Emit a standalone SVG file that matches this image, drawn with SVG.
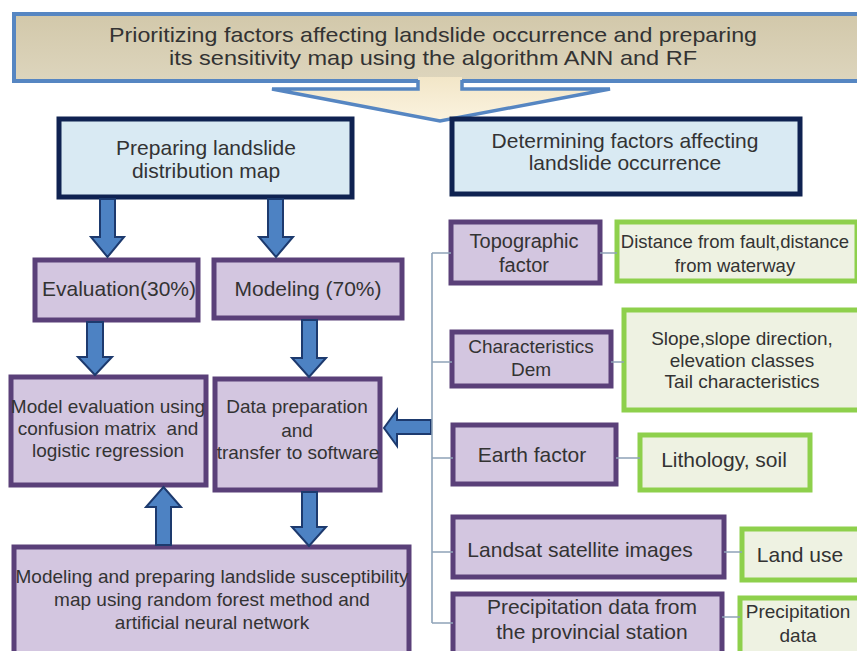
<svg xmlns="http://www.w3.org/2000/svg" width="857" height="651" viewBox="0 0 857 651">
<defs>
<linearGradient id="tan" x1="0" y1="0" x2="0" y2="1">
<stop offset="0" stop-color="#d2c8aa"/>
<stop offset="1" stop-color="#ddd5bd"/>
</linearGradient>
<linearGradient id="cream" x1="0" y1="0" x2="0" y2="1">
<stop offset="0" stop-color="#f2e6c8"/>
<stop offset="1" stop-color="#fbf3df"/>
</linearGradient>
</defs>
<style>
text{font-family:"Liberation Sans",Arial,sans-serif;fill:#333333;text-anchor:middle}
.t21{font-size:21px}
.t19{font-size:19px}
.t18{font-size:18.5px}
.t20{font-size:20px}
.navy{fill:#d9eaf3;stroke:#0f2251;stroke-width:5}
.purple{fill:#d3c6e0;stroke:#5a4079;stroke-width:5}
.green{fill:#eef2e2;stroke:#8ed04c;stroke-width:5}
.barrow{fill:#4d82c3;stroke:#1d3a6e;stroke-width:2;stroke-linejoin:miter}
.link{fill:none;stroke:#8ea3b8;stroke-width:1.6}
</style>
<rect width="857" height="651" fill="#ffffff"/>

<g id="banner">
<rect x="14" y="14" width="850" height="67" fill="url(#tan)" stroke="#5686c2" stroke-width="4"/>
<text class="t21" x="433" y="42" textLength="648" lengthAdjust="spacingAndGlyphs">Prioritizing factors affecting landslide occurrence and preparing</text>
<text class="t21" x="433" y="65" textLength="528" lengthAdjust="spacingAndGlyphs">its sensitivity map using the algorithm ANN and RF</text>
</g>
<g id="banner-arrow">
<path d="M418,77 L418,89 L272,89 L440,121 L610,89 L462,89 L462,77 Z" fill="url(#cream)"/>
<path d="M418,80 L418,89 L272,89 L440,121 L610,89 L462,89 L462,80" fill="none" stroke="#5686c2" stroke-width="3.5" stroke-linejoin="miter"/>
</g>

<g id="prep-dist">
<rect x="59" y="119" width="293" height="78" class="navy"/>
<text class="t21" x="206" y="155">Preparing landslide</text>
<text class="t21" x="206" y="178">distribution map</text>
</g>
<g id="determining">
<rect x="452" y="119" width="348" height="75" class="navy"/>
<text class="t21" x="625" y="148">Determining factors affecting</text>
<text class="t21" x="625" y="170">landslide occurrence</text>
</g>

<g id="evaluation">
<rect x="35" y="260" width="163" height="60" class="purple"/>
<text class="t21" x="119" y="296">Evaluation(30%)</text>
</g>
<g id="modeling">
<rect x="214" y="260" width="188" height="58" class="purple"/>
<text class="t21" x="308" y="296">Modeling (70%)</text>
</g>
<g id="model-eval">
<rect x="11" y="377" width="195" height="108" class="purple"/>
<text class="t19" x="108" y="413">Model evaluation using</text>
<text class="t19" x="108" y="435" xml:space="preserve">confusion matrix  and</text>
<text class="t19" x="108" y="457">logistic regression</text>
</g>
<g id="data-prep">
<rect x="215" y="379" width="165" height="111" class="purple"/>
<text class="t19" x="297" y="413">Data preparation</text>
<text class="t19" x="297" y="437">and</text>
<text class="t19" x="298" y="459">transfer to software</text>
</g>
<g id="rf-ann">
<rect x="14" y="547" width="395" height="110" class="purple"/>
<text class="t19" x="212" y="583">Modeling and preparing landslide susceptibility</text>
<text class="t19" x="212" y="606">map using random forest method and</text>
<text class="t19" x="212" y="629">artificial neural network</text>
</g>

<g id="topographic">
<rect x="451" y="222" width="149" height="61" class="purple"/>
<text class="t20" x="524" y="248">Topographic</text>
<text class="t20" x="524" y="272">factor</text>
</g>
<g id="distance">
<rect x="617" y="222" width="240" height="59" class="green"/>
<text class="t18" x="735" y="248">Distance from fault,distance</text>
<text class="t18" x="735" y="272">from waterway</text>
</g>
<g id="dem">
<rect x="452" y="332" width="159" height="54" class="purple"/>
<text class="t19" x="531" y="353">Characteristics</text>
<text class="t19" x="531" y="376">Dem</text>
</g>
<g id="slope">
<rect x="624" y="310" width="240" height="100" class="green"/>
<text class="t19" x="742" y="345">Slope,slope direction,</text>
<text class="t19" x="742" y="367">elevation classes</text>
<text class="t19" x="742" y="388">Tail characteristics</text>
</g>
<g id="earth">
<rect x="453" y="425" width="163" height="59" class="purple"/>
<text class="t21" x="532" y="462">Earth factor</text>
</g>
<g id="lithology">
<rect x="640" y="435" width="170" height="55" class="green"/>
<text class="t21" x="724" y="467">Lithology, soil</text>
</g>
<g id="landsat">
<rect x="453" y="517" width="271" height="60" class="purple"/>
<text class="t21" x="580" y="557">Landsat satellite images</text>
</g>
<g id="landuse">
<rect x="742" y="529" width="120" height="51" class="green"/>
<text class="t21" x="800" y="562">Land use</text>
</g>
<g id="precip-station">
<rect x="453" y="594" width="269" height="65" class="purple"/>
<text class="t21" x="592" y="614">Precipitation data from</text>
<text class="t21" x="592" y="639">the provincial station</text>
</g>
<g id="precip-data">
<rect x="740" y="598" width="122" height="60" class="green"/>
<text class="t19" x="798" y="618">Precipitation</text>
<text class="t19" x="798" y="642">data</text>
</g>

<g id="connectors">
<polygon class="barrow" points="100,199 115,199 115,237 124,237 107.5,257 91,237 100,237"/>
<polygon class="barrow" points="268,199 283,199 283,237 293,237 276,257 259,237 268,237"/>
<polygon class="barrow" points="87,322 103,322 103,357 112,357 95,375 78,357 87,357"/>
<polygon class="barrow" points="302,320 317,320 317,358 326,358 309,377 292,358 302,358"/>
<polygon class="barrow" points="431,420 397,420 397,410 384,428 397,446 397,434 431,434"/>
<polygon class="barrow" points="156,545 171,545 171,507 181,507 163.5,487 146,507 156,507"/>
<polygon class="barrow" points="302,492 317,492 317,527 326,527 309,546 292,527 302,527"/>
<path class="link" d="M432,253 V623"/>
<path class="link" d="M432,253 H451 M600,253 H617"/>
<path class="link" d="M432,362 H452 M611,362 H624"/>
<path class="link" d="M432,458 H453 M616,458 H640"/>
<path class="link" d="M432,552 H453 M724,552 H742"/>
<path class="link" d="M432,623 H453 M722,617 H740"/>
</g>
</svg>
